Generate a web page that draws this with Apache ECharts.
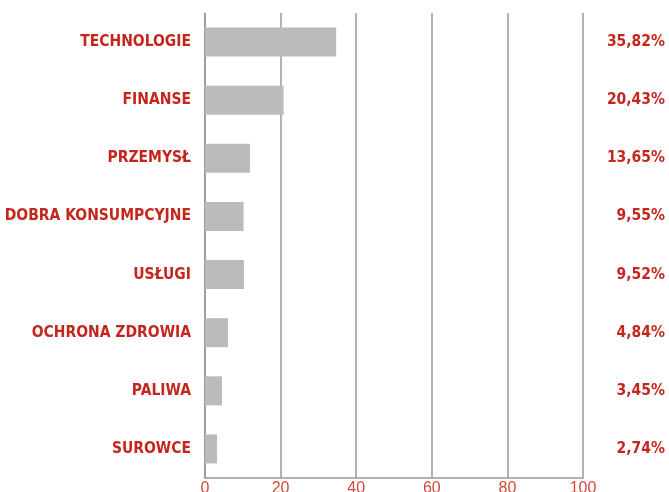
<!DOCTYPE html>
<html>
<head>
<meta charset="utf-8">
<script src="https://cdn.jsdelivr.net/npm/echarts@6/dist/echarts.min.js"></script>
<style>
  html, body { margin: 0; padding: 0; background: #fff; }
  #chart { width: 669px; height: 492px; }
</style>
</head>
<body>
<div id="chart"></div>
<script>
  // sectors, top to bottom
  var categories = ['TECHNOLOGIE', 'FINANSE', 'PRZEMYSŁ', 'DOBRA KONSUMPCYJNE', 'USŁUGI', 'OCHRONA ZDROWIA', 'PALIWA', 'SUROWCE'];
  // share labels printed on the right
  var shareLabels = ['35,82%', '20,43%', '13,65%', '9,55%', '9,52%', '4,84%', '3,45%', '2,74%'];
  // bar lengths as drawn
  var barValues = [34.7, 20.8, 11.9, 10.2, 10.3, 6.1, 4.5, 3.2];
  var xTicks = [0, 20, 40, 60, 80, 100];

  var red = '#c4261d';
  var font = '"Liberation Sans Narrow", "DejaVu Sans Condensed", sans-serif';

  var chart = echarts.init(document.getElementById('chart'));
  chart.setOption({
    animation: false,
    grid: { left: 205, right: 86, top: 13, bottom: 14, containLabel: false, outerBoundsMode: 'none' },
    xAxis: {
      type: 'value',
      min: xTicks[0],
      max: xTicks[xTicks.length - 1],
      interval: 20,
      axisLine: { show: true, lineStyle: { color: '#999', width: 1.5 } },
      axisTick: { show: false },
      axisLabel: {
        color: '#d6473c', fontSize: 16, margin: 3,
        fontFamily: '"Liberation Sans", Arial, sans-serif'
      },
      splitLine: { show: true, lineStyle: { color: '#999', width: 1.5 } }
    },
    yAxis: [
      {
        type: 'category',
        data: categories,
        inverse: true,
        axisLine: { show: true, lineStyle: { color: '#999', width: 1.5 } },
        axisTick: { show: false },
        axisLabel: {
          color: red, fontSize: 15.5, fontWeight: 'bold', fontFamily: font, margin: 14
        }
      },
      {
        type: 'category',
        data: shareLabels,
        inverse: true,
        position: 'right',
        axisLine: { show: false },
        axisTick: { show: false },
        axisLabel: {
          color: red, fontSize: 15.5, fontWeight: 'bold', fontFamily: font,
          align: 'right', margin: 82
        }
      }
    ],
    series: [
      {
        type: 'bar',
        data: barValues,
        yAxisIndex: 0,
        barWidth: 29,
        itemStyle: { color: '#bbbbbb' }
      }
    ]
  });
</script>
</body>
</html>
